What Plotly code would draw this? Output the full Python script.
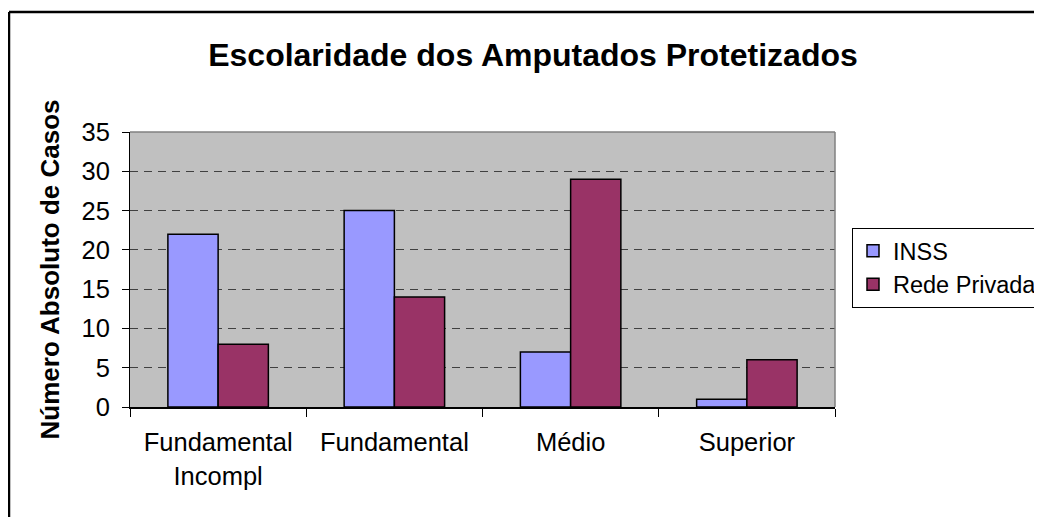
import plotly.graph_objects as go

categories = ["Fundamental<br>Incompl", "Fundamental", "Médio", "Superior"]
inss = [22, 25, 7, 1]
rede_privada = [8, 14, 29, 6]
series_names = ["INSS", "Rede Privada"]
y_ticks = [0, 5, 10, 15, 20, 25, 30, 35]

OFF = 8  # page body margin offset
W, H = 1042, 517
L = 130 - OFF
R = W - (835 - OFF)
T = 132 - OFF
B = H - (407 - OFF)
pw, ph = W - L - R, H - T - B


def px_x(x):
    return (x - OFF - L) / pw


def px_y(y):
    return (H - B - (y - OFF)) / ph


FONT = "Liberation Sans, Arial, sans-serif"
FS = 25.5

fig = go.Figure()
fig.add_trace(go.Bar(x=categories, y=inss, name=series_names[0], legendgroup="a",
                     marker=dict(color="#9999FF", line=dict(color="black", width=1.5))))
fig.add_trace(go.Bar(x=categories, y=rede_privada, name=series_names[1], legendgroup="b",
                     marker=dict(color="#993366", line=dict(color="black", width=1.5))))

fig.update_layout(
    width=W, height=H,
    margin=dict(l=L, r=R, t=T, b=B, pad=0, autoexpand=False),
    paper_bgcolor="white", plot_bgcolor="#C0C0C0",
    barmode="group", bargap=0.43, bargroupgap=0,
    font=dict(family=FONT, size=FS, color="black"),
    title=dict(text="<b>Escolaridade dos Amputados Protetizados</b>",
               font=dict(family=FONT, size=32, color="black"),
               x=(533 - OFF) / W, xanchor="center", y=1 - (55 - OFF) / H, yanchor="middle"),
    showlegend=True,
    legend=dict(x=px_x(852), xanchor="left", y=px_y(228), yanchor="top",
                bordercolor="black", borderwidth=1, bgcolor="white",
                font=dict(family=FONT, size=23.5, color="black"),
                tracegroupgap=8, itemwidth=30, traceorder="normal"),
)

fig.update_xaxes(
    type="category", tickson="boundaries", ticks="outside", ticklen=8,
    tickcolor="black", showline=True, linecolor="black", linewidth=1.5,
    showgrid=False, tickfont=dict(family=FONT, size=FS, color="black"),
    ticklabelstandoff=12, automargin=False,
)
fig.update_yaxes(
    range=[0, 35], tickvals=y_ticks, ticks="outside", ticklen=7, tickcolor="black",
    showline=True, linecolor="black", linewidth=1,
    showgrid=True, gridcolor="#404040", griddash="8px,6px", gridwidth=1,
    zeroline=False, tickfont=dict(family=FONT, size=FS, color="black"),
    ticklabelstandoff=7, automargin=False,
    title=dict(text="<b>Número Absoluto de Casos</b>",
               font=dict(family=FONT, size=26, color="black"), standoff=14),
)

# plot area border (gray top/right) and outer chart border
fig.add_shape(type="line", xref="paper", yref="paper", x0=0, x1=1, y0=1, y1=1,
              line=dict(color="#808080", width=1.5))
fig.add_shape(type="line", xref="paper", yref="paper", x0=1, x1=1, y0=0, y1=1,
              line=dict(color="#808080", width=1.5))
fig.add_shape(type="line", xref="paper", yref="paper",
              x0=px_x(9), x1=px_x(1060), y0=px_y(12), y1=px_y(12),
              line=dict(color="black", width=2.5))
fig.add_shape(type="line", xref="paper", yref="paper",
              x0=px_x(9), x1=px_x(9), y0=px_y(12), y1=px_y(540),
              line=dict(color="black", width=2.5))

fig.write_html("out.html")
